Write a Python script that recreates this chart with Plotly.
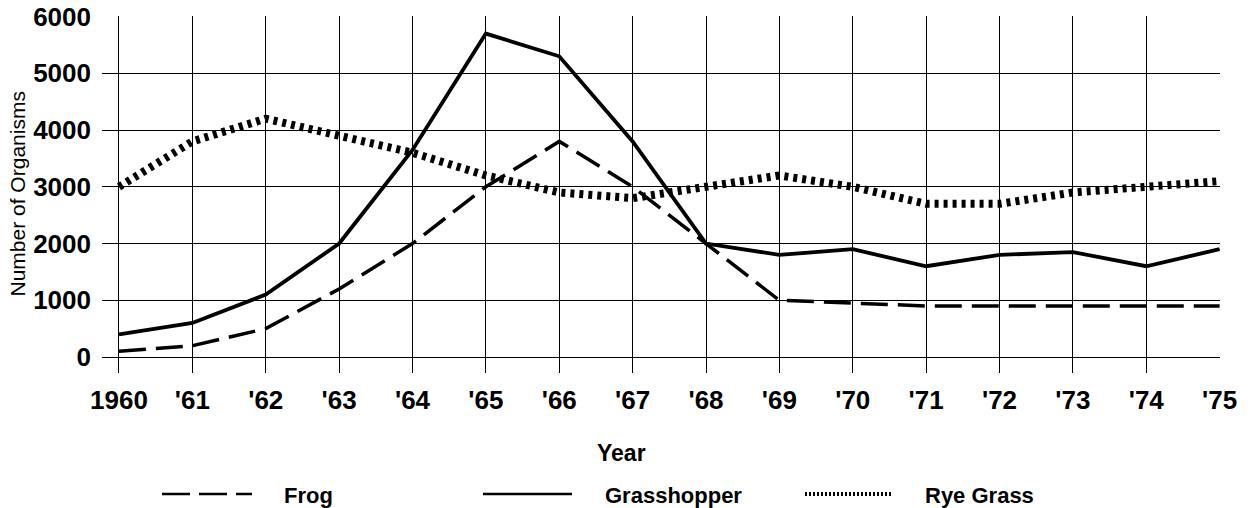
import plotly.graph_objects as go

# ---- data ----
years = [1960, 1961, 1962, 1963, 1964, 1965, 1966, 1967, 1968, 1969, 1970, 1971, 1972, 1973, 1974, 1975]
year_labels = ["1960", "'61", "'62", "'63", "'64", "'65", "'66", "'67", "'68", "'69",
               "'70", "'71", "'72", "'73", "'74", "'75"]
frog = [100, 200, 500, 1200, 2000, 3000, 3800, 3000, 2000, 1000, 950, 900, 900, 900, 900, 900]
grasshopper = [400, 600, 1100, 2000, 3650, 5700, 5300, 3800, 2000, 1800, 1900, 1600, 1800, 1850, 1600, 1900]
rye_grass = [3000, 3800, 4200, 3900, 3600, 3200, 2900, 2800, 3000, 3200, 3000, 2700, 2700, 2900, 3000, 3100]
y_ticks = [0, 1000, 2000, 3000, 4000, 5000, 6000]
y_labels = ["0", "1000", "2000", "3000", "4000", "5000", "6000"]

FONT = "Liberation Sans, Arial, Helvetica, sans-serif"

# plot area in page pixels
L, R, T, B = 102, 1220, 16, 373
W, H = 1250, 508


def px(x):
    return (x - L) / (R - L)


def py(y):
    return (B - y) / (B - T)


fig = go.Figure()
fig.add_trace(go.Scatter(x=years, y=frog, name="Frog", mode="lines",
                         line=dict(color="black", width=3.5, dash="27px,10px")))
fig.add_trace(go.Scatter(x=years, y=grasshopper, name="Grasshopper", mode="lines",
                         line=dict(color="black", width=3.8)))
fig.add_trace(go.Scatter(x=years, y=rye_grass, name="Rye Grass", mode="lines",
                         line=dict(color="black", width=8, dash="4px,5px")))

# manual legend
legend_items = [
    ("Frog", 162, 252, dict(color="black", width=2.5, dash="28px,9px"), 282),
    ("Grasshopper", 483, 572, dict(color="black", width=2.5), 603),
    ("Rye Grass", 805, 892, dict(color="black", width=4, dash="2px,2px"), 923),
]
shapes = []
annotations = []
for name, x0, x1, ln, tx in legend_items:
    shapes.append(dict(type="line", xref="paper", yref="paper",
                       x0=px(x0), x1=px(x1), y0=py(494), y1=py(494), line=ln))
    annotations.append(dict(text=name, xref="paper", yref="paper", x=px(tx), y=py(495),
                            xanchor="left", yanchor="middle", showarrow=False,
                            font=dict(family=FONT, size=22, color="black", weight="bold")))

annotations.append(dict(text="Year", xref="paper", yref="paper", x=px(621), y=py(453),
                        xanchor="center", yanchor="middle", showarrow=False,
                        font=dict(family=FONT, size=23, color="black", weight="bold")))
annotations.append(dict(text="Number of Organisms", xref="paper", yref="paper",
                        x=px(17), y=py(194.5), textangle=-90,
                        xanchor="center", yanchor="middle", showarrow=False,
                        font=dict(family=FONT, size=21, color="black")))

fig.update_layout(
    width=W, height=H,
    margin=dict(l=L, r=W - R, t=T, b=H - B, pad=0, autoexpand=False),
    paper_bgcolor="white", plot_bgcolor="white",
    showlegend=False,
    shapes=shapes, annotations=annotations,
    xaxis=dict(range=[1960 - 17 / 73.4, 1975.005], tickmode="array", tickvals=years,
               ticktext=year_labels, showgrid=True, gridcolor="black", gridwidth=1,
               zeroline=False, showline=False, ticks="", ticklabelstandoff=9,
               automargin=False, ticklabeloverflow="allow",
               tickfont=dict(family=FONT, size=26, color="black", weight="bold")),
    yaxis=dict(range=[-281.5, 6010], tickmode="array", tickvals=y_ticks, ticktext=y_labels,
               showgrid=True, gridcolor="black", gridwidth=1,
               zeroline=True, zerolinecolor="black", zerolinewidth=1,
               showline=False, ticks="", ticklabelstandoff=10, automargin=False,
               ticklabeloverflow="allow",
               tickfont=dict(family=FONT, size=26, color="black", weight="bold")),
)

fig.write_html("out.html", config={"displayModeBar": False},
               post_script="document.body.style.margin='0';document.body.style.overflow='hidden';")
